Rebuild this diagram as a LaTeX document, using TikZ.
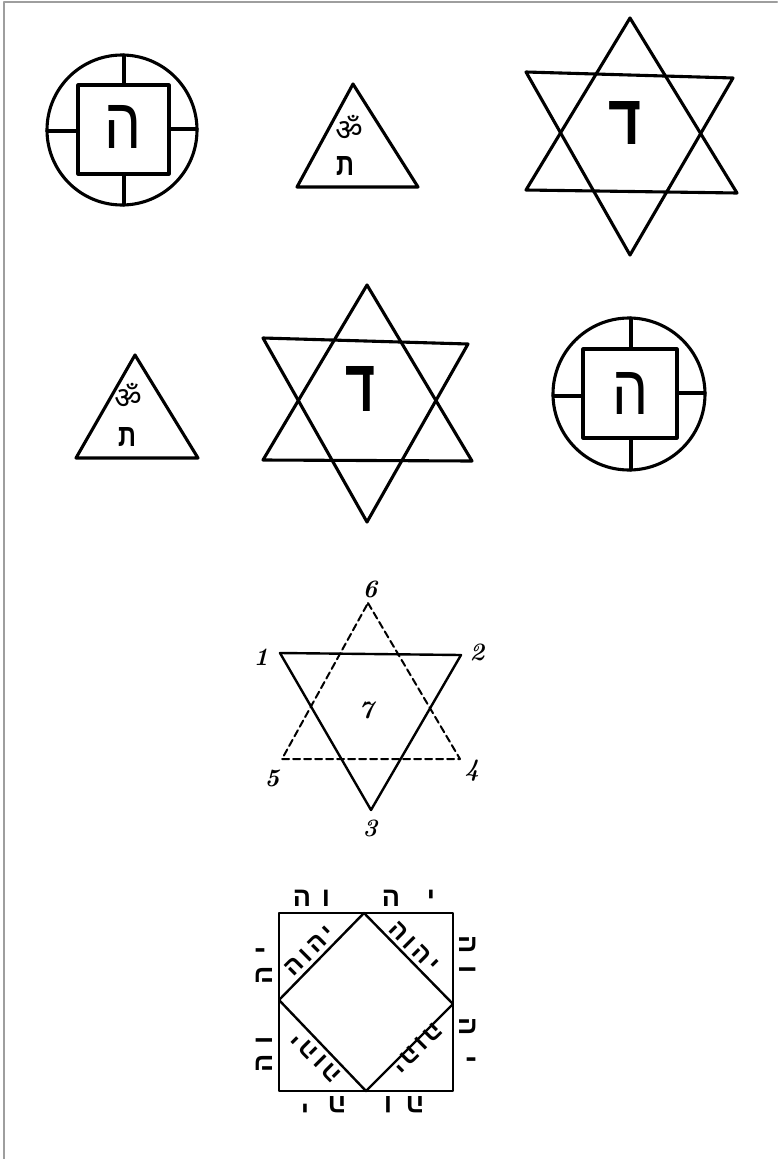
\documentclass[tikz,border=0pt]{standalone}
\usepackage{fontspec}
\usepackage{graphicx}
\TeXXeTstate=1
\newfontfamily\hebfont[Script=Hebrew]{Liberation Sans}
\newfontfamily\devfont[Script=Devanagari]{Noto Sans}
\newcommand\hb[1]{{\hebfont\bfseries\beginR#1\endR}}
\newcommand\hbr[1]{{\hebfont\beginR#1\endR}}
\newcommand\om{{\devfont\fontsize{30}{30}\selectfont ॐ}}
\tikzset{
  sym/.style={line width=3.1pt},
  thin sym/.style={line width=2.4pt},
  dsh/.style={line width=2.0pt, dash pattern=on 7pt off 4pt},
  lbl/.style={inner sep=0pt},
  hl/.style={inner sep=0pt, font=\fontsize{27}{27}\selectfont},
  dl/.style={inner sep=0pt, font=\fontsize{25}{25}\selectfont},
  num/.style={inner sep=0pt, font=\fontsize{25}{25}\selectfont\bfseries\itshape},
  frame/.style={line width=2.4pt, draw=black!38}
}
\begin{document}
\begin{tikzpicture}[x=1pt,y=-1pt,line join=round,line cap=round]
\useasboundingbox (0,0) rectangle (777,1159);
\fill[white] (0,0) rectangle (777,1159);
% frame (top and left edge)
\draw[frame] (4,1159) -- (4,2) -- (777,2);

% ---- circle/square 1
\draw[sym] (122,130) circle (75pt);
\draw[sym] (78,85) rectangle (169,174);
\draw[sym] (124,55) -- (124,85);
\draw[sym] (124,174) -- (124,205);
\draw[sym] (47,131) -- (78,131);
\draw[sym] (169,129) -- (197,129);
\node[lbl] (he1) at (123,127) {\resizebox{37pt}{43pt}{\hbr{ה}}};

% ---- triangle 1
\draw[sym] (353,84) -- (418,187) -- (297,187) -- cycle;
\node[lbl] (om1) at (349,128) {\om};
\node[lbl] (tav1) at (345,166) {\resizebox{18pt}{19pt}{\hb{ת}}};

% ---- hexagram 1
\draw[sym] (630,18) -- (737,193) -- (526,190) -- cycle;
\draw[sym] (526,72) -- (733,78) -- (630,255) -- cycle;
\node[lbl] (dal1) at (625,123) {\resizebox{33pt}{43pt}{\hb{ד}}};

% ---- triangle 2
\draw[sym] (135,355) -- (198,458) -- (76,458) -- cycle;
\node[lbl] (om2) at (128,396) {\om};
\node[lbl] (tav2) at (127,437) {\resizebox{18pt}{19pt}{\hb{ת}}};

% ---- hexagram 2
\draw[sym] (367,285) -- (472,461) -- (263,460) -- cycle;
\draw[sym] (263,338) -- (468,344) -- (367,522) -- cycle;
\node[lbl] (dal2) at (360,389) {\resizebox{30pt}{45pt}{\hb{ד}}};

% ---- circle/square 2
\draw[sym] (629,394) circle (76pt);
\draw[sym] (583,349) rectangle (677,438);
\draw[sym] (631,318) -- (631,349);
\draw[sym] (631,438) -- (631,470);
\draw[sym] (553,396) -- (583,396);
\draw[sym] (677,393) -- (705,393);
\node[lbl] (he2) at (630,393) {\resizebox{36pt}{42pt}{\hbr{ה}}};

% ---- numbered star
\coordinate (p1) at (280,653);
\coordinate (p2) at (461,655);
\coordinate (p3) at (371,810);
\coordinate (p6) at (368,603);
\coordinate (p5) at (282,759);
\coordinate (p4) at (460,759);
\draw[dsh] (p6) -- (p4) -- (p5) -- cycle;
\draw[thin sym] (p1) -- (p2) -- (p3) -- cycle;
\node[num] (n1) at (261,657) {1};
\node[num] (n2) at (477,652) {2};
\node[num] (n3) at (370,828) {3};
\node[num] (n4) at (472,771) {4};
\node[num] (n5) at (272,778) {5};
\node[num] (n6) at (370,589) {6};
\node[num] (n7) at (366,710) {7};

% ---- square with the Name
\coordinate (sTL) at (279,913);
\coordinate (sTR) at (453,913);
\coordinate (sBR) at (453,1091);
\coordinate (sBL) at (279,1091);
\coordinate (dT) at (364,913);
\coordinate (dR) at (453,1004);
\coordinate (dB) at (366,1091);
\coordinate (dL) at (279,1000);
\draw[thin sym] (sTL) -- (sTR) -- (sBR) -- (sBL) -- cycle;
\draw[thin sym] (dT) -- (dR) -- (dB) -- (dL) -- cycle;

\foreach \l/\x [count=\i] in {ה/302,ו/326,ה/391,י/431}
  \node[hl] (top\i) at (\x,898) {\hb{\l}};
\foreach \l/\y [count=\i] in {ה/945,ו/970,ה/1027,י/1060}
  \node[hl,rotate=-90] (rgt\i) at (468,\y) {\hb{\l}};
\foreach \l/\y [count=\i] in {י/950,ה/975,ו/1040,ה/1063}
  \node[hl,rotate=90] (lft\i) at (264,\y) {\hb{\l}};
\foreach \l/\x [count=\i] in {י/305,ה/337,ו/388,ה/415}
  \node[hl,rotate=180] (bot\i) at (\x,1105) {\hb{\l}};

\node[dl,rotate=45] (dTL) at (310,951) {\hb{י\kern4ptה\kern4ptו\kern4ptה}};
\node[dl,rotate=-45] (dTR) at (414,947) {\hb{י\kern4ptה\kern4ptו\kern4ptה}};
\node[dl,rotate=135] (dBL) at (316,1057) {\hb{י\kern4ptה\kern4ptו\kern4ptה}};
\node[dl,rotate=-135] (dBR) at (417,1048) {\hb{י\kern4ptה\kern4ptו\kern4ptה}};
\end{tikzpicture}
\end{document}
